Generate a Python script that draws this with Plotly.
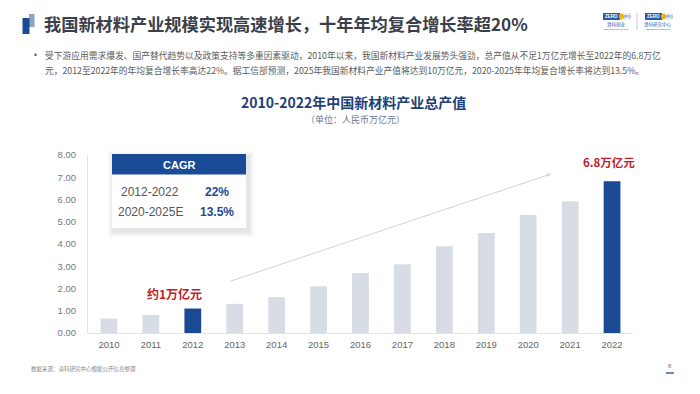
import plotly.graph_objects as go

years = ["2010", "2011", "2012", "2013", "2014", "2015", "2016", "2017", "2018", "2019", "2020", "2021", "2022"]
output_value = [0.65, 0.81, 1.10, 1.31, 1.61, 2.10, 2.70, 3.09, 3.90, 4.50, 5.30, 5.92, 6.82]
highlight_years = ["2012", "2022"]
y_ticks = [0, 1, 2, 3, 4, 5, 6, 7, 8]
cagr_periods = ["2012-2022", "2020-2025E"]
cagr_rates = ["22%", "13.5%"]

# page is 700x394; the browser's default body margin shifts the figure by 8px
OFF = 8
W, H = 700, 394
L, R, T, B = 88, 67, 155, 61
PW, PH = W - L - R, H - T - B

def px(x):
    return (x - L) / PW

def py(y):
    return (H - B - y) / PH

FONT = "Liberation Sans, Noto Sans CJK SC, sans-serif"
CJK = "Noto Sans CJK SC, sans-serif"
GRAY_BAR = "#d8dce5"
BLUE = "#1a4a93"
RED = "#c0202a"

colors = [BLUE if y in highlight_years else GRAY_BAR for y in years]

fig = go.Figure(go.Bar(x=years, y=output_value, marker=dict(color=colors, line=dict(width=0)),
                       width=0.4, hoverinfo="skip"))

shapes = []
annotations = []

def rect(x0, y0, x1, y1, fill, opacity=1.0, line=None):
    shapes.append(dict(type="rect", xref="paper", yref="paper", x0=px(x0), x1=px(x1), y0=py(y1), y1=py(y0),
                       fillcolor=fill, opacity=opacity, line=dict(width=0) if line is None else line, layer="above"))

def text(x, y, s, size, color, xanchor="center", bold=False, family=FONT):
    if bold:
        s = "<b>" + s + "</b>"
    annotations.append(dict(xref="paper", yref="paper", x=px(x), y=py(y), text=s, showarrow=False,
                            xanchor=xanchor, yanchor="middle", font=dict(size=size, color=color, family=family)))

# header icon
rect(29, 14, 34.5, 27, "#8fa3c4")
rect(22.5, 18, 29.5, 34, "#1d4a95")
# page title
text(42, 23, "我国新材料产业规模实现高速增长，十年年均复合增长率超20%", 17.2, "#3a3f4a", "left", True, CJK)

# logos
for x0, lab in [(603, "清科创业"), (645, "清科研究中心")]:
    rect(x0, 13, x0 + 17, 20, "#2b5aa8")
    text(x0 + 8.5, 16.5, "ZERO", 4.5, "white", bold=True)
    shapes.append(dict(type="circle", xref="paper", yref="paper", x0=px(x0 + 16), x1=px(x0 + 21),
                       y0=py(19.5), y1=py(13.5), fillcolor="#f0b400", line=dict(width=0), layer="above"))
    rect(x0 + 21, 13, x0 + 28, 20, "#e8edf5")
    text(x0 + 24.5, 16.5, "IPO", 4, "#2b5aa8")
    text(x0 + 13, 24.5, lab, 4.5, "#2b5aa8", family=CJK)
    text(x0 + 13, 29, "ZERO2IPO Research", 2.5, "#2b5aa8")
shapes.append(dict(type="line", xref="paper", yref="paper", x0=px(637), x1=px(637), y0=py(30), y1=py(13),
                   line=dict(color="#c8c8c8", width=1), layer="above"))

# bullet text
text(32, 55, "•", 8.5, "#5a5a5a", "left")
text(43, 55, "受下游应用需求爆发、国产替代趋势以及政策支持等多重因素驱动，2010年以来，我国新材料产业发展势头强劲，总产值从不足1万亿元增长至2022年的6.8万亿",
     8.75, "#5a5a5a", "left", family=CJK)
text(43, 70.5, "元，2012至2022年的年均复合增长率高达22%。据工信部预测，2025年我国新材料产业产值将达到10万亿元，2020-2025年年均复合增长率将达到13.5%。",
     8.75, "#5a5a5a", "left", family=CJK)

# chart title
text(353, 102, "2010-2022年中国新材料产业总产值", 14, "#1f3f78", bold=True, family=CJK)
text(355, 119.5, "（单位：人民币万亿元）", 9, "#6a7590", family=CJK)

# CAGR box with soft shadow
for i, op in enumerate([0.05, 0.05, 0.06, 0.07]):
    d = 6 - i * 1.5
    rect(112 - d + 2, 154 - d + 3, 246 + d + 2, 228 + d + 3, "#8a8a8a", op)
rect(112, 154, 246, 228, "white")
rect(112, 154, 246, 174.5, "#1a4b96")
text(179, 164.5, "CAGR", 11, "white", bold=True)
for i, (p, r) in enumerate(zip(cagr_periods, cagr_rates)):
    yy = 192 + i * 19.5
    text(150, yy, p, 12, "#555555")
    text(217, yy, r, 12, "#1f4a93", bold=True)

# growth arrow
annotations.append(dict(xref="x domain", yref="y domain", axref="x domain", ayref="y domain",
                        x=px(551), y=py(174), ax=px(228), ay=py(282), text="", showarrow=True,
                        arrowhead=2, arrowsize=0.8, arrowwidth=1, arrowcolor="#d2d2d2"))

# value callouts
text(174, 293, "约1万亿元", 12, RED, bold=True, family=CJK)
text(609, 162, "6.8万亿元", 11.5, RED, bold=True, family=CJK)

# footer
text(29, 369, "数据来源：清科研究中心根据公开信息整理", 5.5, "#888888", "left", family=CJK)
text(670, 366, "8", 6, "#777777")
shapes.append(dict(type="line", xref="paper", yref="paper", x0=px(666), x1=px(674), y0=py(373), y1=py(373),
                   line=dict(color="#3a62a8", width=1.5), layer="above"))

fig.update_layout(
    width=W - OFF, height=H - OFF,
    margin=dict(l=L - OFF, r=R, t=T - OFF, b=B, pad=0),
    paper_bgcolor="white", plot_bgcolor="white",
    showlegend=False,
    bargap=0.6,
    font=dict(family=FONT, color="#666666", size=9.5),
    xaxis=dict(type="category", range=[-0.5, 12.5], showline=True, linecolor="#e3e3e3", linewidth=1,
               showgrid=False, zeroline=False, ticks="", tickfont=dict(size=9.5, color="#666666"),
               ticklabelstandoff=3, fixedrange=True),
    yaxis=dict(range=[0, 8], tickvals=y_ticks, tickformat=".2f", showline=True, linecolor="#e3e3e3",
               linewidth=1, showgrid=False, zeroline=False, ticks="", tickfont=dict(size=9.5, color="#777777"),
               ticklabelstandoff=9, fixedrange=True),
    shapes=shapes,
    annotations=annotations,
)

fig.write_html("out.html")
